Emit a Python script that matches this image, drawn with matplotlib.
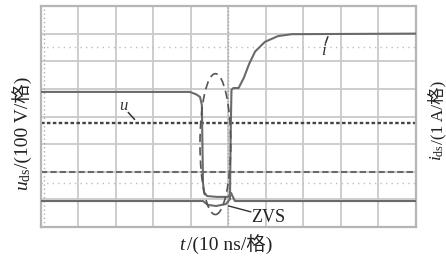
import matplotlib
matplotlib.use("Agg")
import matplotlib.pyplot as plt
from matplotlib.patches import Ellipse

plt.rcParams.update({
    "font.family": ["Liberation Serif", "Noto Sans CJK SC"],
    "mathtext.fontset": "custom",
    "mathtext.rm": "Liberation Serif",
    "mathtext.it": "Liberation Serif:italic",
})

# scope traces in divisions (10 x 8 grid)
u_t = [0, 3.98, 4.15, 4.25, 4.30, 4.33, 4.36, 4.44, 4.70, 5.0, 5.08, 5.18, 9.99]
u_v = [4.89, 4.89, 4.80, 4.71, 4.42, 1.60, 1.25, 1.12, 1.09, 1.09, 1.23, 0.94, 0.94]

i_t = [0, 4.33, 4.46, 4.68, 4.94, 5.05, 5.07, 5.09, 5.14, 5.28, 5.42, 5.56, 5.72, 5.98, 6.33, 6.70, 9.99]
i_v = [0.94, 0.94, 0.80, 0.76, 0.83, 1.01, 3.5, 4.96, 5.03, 5.03, 5.40, 5.90, 6.35, 6.70, 6.91, 6.98, 7.00]

ref_dotted = 3.78   # dark dotted reference
ref_dashed = 2.0    # dark dashed reference
light_dots = [6.53, 1.58]

W, H = 446, 259
fig = plt.figure(figsize=(W / 100, H / 100), dpi=100)
ax = fig.add_axes([40.7 / W, 1 - 227 / H, (415.5 - 40.7) / W, (227 - 6) / H])
ax.set_xlim(0, 10)
ax.set_ylim(0, 8)

grid_c = "#c9c9c9"
for k in range(1, 10):
    ax.axvline(k, color=grid_c, lw=1.3, zorder=1)
for k in range(1, 8):
    ax.axhline(k, color=grid_c, lw=1.3, zorder=1)
for s in ax.spines.values():
    s.set_color("#b5b5b5")
    s.set_linewidth(1.6)
ax.set_xticks([])
ax.set_yticks([])

# light dotted lines and scope centre ticks
for yv in light_dots:
    ax.axhline(yv, color="#bdbdbd", lw=1.0, ls=(0, (1, 3)), zorder=1)
ax.axvline(5, color="#a8a8a8", lw=1.0, ls=(0, (1, 1.5)), zorder=1)
ax.axvline(0.09, color="#b0b0b0", lw=1.0, ls=(0, (1, 2)), zorder=1)

ax.axhline(ref_dotted, color="#444444", lw=1.7, ls=(0, (1.5, 1)), zorder=2)
ax.axhline(ref_dashed, color="#6a6a6a", lw=1.5, ls=(0, (3, 1.5)), zorder=2)

trace_c = "#6a6a6a"
ax.plot(i_t, i_v, color=trace_c, lw=1.5, zorder=3)
ax.plot(u_t, u_v, color=trace_c, lw=1.5, zorder=3)

ax.add_patch(Ellipse((4.66, 3.0), 0.82, 5.1, fill=False, ec="#555555",
                     lw=1.2, ls=(0, (5, 3)), zorder=4))

ax.text(2.2, 4.38, "u", style="italic", fontsize=12, color="#333333",
        ha="center", va="center")
ax.plot([2.34, 2.5], [4.14, 3.9], color="#333333", lw=1.1)
ax.text(7.53, 6.38, "i", style="italic", fontsize=12, color="#333333",
        ha="center", va="center")
ax.plot([7.6, 7.66], [6.66, 6.88], color="#333333", lw=1.1)

ax.plot([5.02, 5.6], [0.76, 0.55], color="#333333", lw=1.0)
ax.text(5.62, 0.36, "ZVS", fontsize=13, color="#222222", ha="left", va="center")


def chain(pieces, x0, y0, vertical, size):
    # math part first, then plain text with the CJK fallback
    prev = fig.text(x0 / W, 1 - y0 / H, pieces[0], fontsize=size, color="#222222",
                    rotation=90 if vertical else 0, rotation_mode="anchor",
                    ha="left", va="baseline")
    for txt in pieces[1:]:
        if vertical:
            prev = ax.annotate(txt, xy=(x0 / W, 1), xycoords=("figure fraction", prev),
                               fontsize=size, color="#222222", rotation=90,
                               rotation_mode="anchor", ha="left", va="baseline",
                               annotation_clip=False)
        else:
            prev = ax.annotate(txt, xy=(1, 1 - y0 / H), xycoords=(prev, "figure fraction"),
                               fontsize=size, color="#222222",
                               ha="left", va="baseline", annotation_clip=False)


chain([r"$u_{\mathrm{ds}}$", "/(100 V/格)"], 28, 191, True, 14)
chain([r"$i_{\mathrm{ds}}$", "/(1 A/格)"], 442, 161, True, 12.5)
chain([r"$t$", "/(10 ns/格)"], 179, 250, False, 14)

fig.savefig("out.png", dpi=100, facecolor="white")
